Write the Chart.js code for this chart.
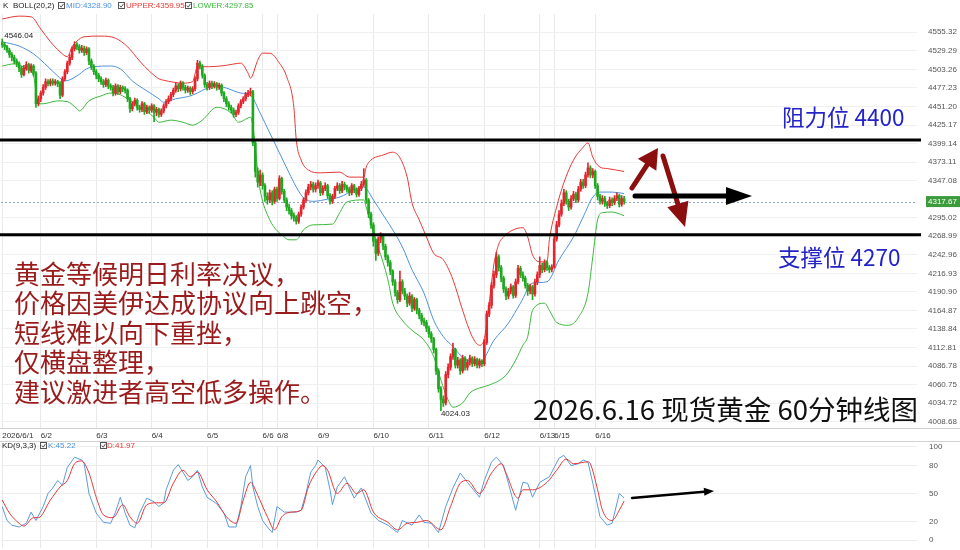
<!DOCTYPE html>
<html><head><meta charset="utf-8">
<script src="https://cdn.jsdelivr.net/npm/chart.js@4.4.1/dist/chart.umd.min.js"></script>
<style>
html,body{margin:0;padding:0;background:#fff;}
#wrap{position:relative;width:960px;height:550px;overflow:hidden;background:#fff;}
#main{position:absolute;left:0;top:0;}
#kd{position:absolute;left:0;top:442px;}
</style></head><body>
<div id="wrap">
<canvas id="main" width="960" height="442"></canvas>
<canvas id="kd" width="960" height="108"></canvas>
</div>
<script>
// ---------- DATA ----------
const days = ['2026/6/1','6/2','6/3','6/4','6/5','6/6','6/8','6/9','6/10','6/11','6/12','6/13','6/15','6/16'];
const dayStart = [0,16,39,62,85,108,114,131,154,177,200,223,229,246];
const slotCount = 380;
const firstOpen = 4541;
const closes = [
4538,4535,4530,4524,4520,4515,4512,4505,4496,4505,
4510,4502,4508,4498,4455,4462,4470,4478,4486,4483,
4487,4484,4486,4483,4467,4490,4500,4512,4520,4532,
4538,4535,4530,4533,4527,4532,4515,4507,4500,4495,
4490,4486,4482,4488,4480,4478,4470,4480,4472,4478,
4476,4474,4462,4448,4455,4460,4450,4447,4455,4444,
4450,4446,4452,4443,4447,4440,4445,4452,4458,4462,
4468,4474,4480,4476,4484,4478,4474,4477,4472,4476,
4490,4512,4508,4495,4482,4478,4484,4480,4483,4478,
4481,4470,4462,4455,4450,4446,4440,4443,4452,4458,
4462,4468,4470,4472,4400,4360,4345,4355,4340,4325,
4320,4330,4318,4335,4322,4350,4332,4320,4310,4305,
4298,4295,4290,4300,4310,4320,4330,4338,4342,4335,
4340,4344,4330,4336,4340,4326,4318,4325,4336,4340,
4333,4342,4338,4335,4330,4340,4334,4328,4336,4342,
4348,4320,4300,4285,4262,4245,4265,4270,4255,4240,
4232,4220,4205,4190,4180,4205,4192,4185,4175,4185,
4168,4180,4165,4158,4150,4148,4140,4132,4125,4110,
4080,4055,4040,4035,4075,4085,4100,4110,4088,4095,
4080,4098,4085,4092,4098,4090,4096,4088,4094,4090,
4120,4160,4172,4200,4215,4240,4225,4210,4195,4185,
4192,4198,4186,4205,4224,4215,4210,4200,4192,4198,
4188,4205,4215,4228,4222,4232,4225,4222,4226,4265,
4285,4300,4315,4330,4318,4310,4322,4328,4320,4335,
4345,4340,4355,4365,4355,4360,4340,4325,4318,4322,
4315,4312,4320,4316,4322,4326,4314,4322,4317.67];
const highs = [
4546.04,4541,4537,4533,4527,4523,4518,4514,4508,4509,
4514,4512,4511,4510,4500,4466,4473,4482,4490,4489,
4490,4490,4489,4488,4486,4493,4503,4515,4524,4535,
4542,4541,4538,4537,4536,4535,4534,4518,4510,4503,
4498,4493,4489,4491,4490,4483,4481,4483,4482,4481,
4480,4479,4476,4464,4458,4463,4462,4453,4458,4457,
4453,4452,4455,4454,4450,4449,4448,4455,4461,4466,
4471,4477,4484,4483,4487,4486,4481,4480,4479,4479,
4493,4516,4515,4510,4497,4485,4487,4487,4486,4485,
4484,4483,4472,4465,4458,4453,4449,4446,4455,4461,
4465,4471,4474,4477,4474,4404,4365,4362,4358,4343,
4330,4334,4333,4338,4338,4354,4352,4335,4323,4314,
4308,4302,4298,4303,4313,4323,4334,4342,4346,4345,
4344,4348,4346,4340,4344,4342,4329,4328,4339,4344,
4343,4346,4345,4341,4338,4343,4342,4337,4339,4346,
4364,4350,4322,4303,4288,4265,4268,4274,4272,4258,
4243,4235,4222,4208,4193,4220,4208,4196,4188,4190,
4187,4183,4182,4168,4161,4154,4151,4143,4135,4127,
4112,4083,4058,4045,4079,4090,4104,4119,4112,4099,
4097,4102,4100,4096,4102,4100,4100,4098,4097,4096,
4124,4164,4176,4204,4220,4246,4243,4228,4213,4198,
4196,4202,4200,4209,4228,4227,4219,4213,4203,4202,
4200,4209,4219,4240,4231,4236,4235,4228,4229,4270,
4290,4305,4320,4335,4333,4321,4326,4332,4331,4339,
4349,4349,4359,4372,4368,4364,4362,4343,4328,4326,
4325,4318,4324,4323,4326,4330,4328,4326,4325];
const lows = [
4534,4531,4527,4520,4515,4511,4507,4500,4492,4494,
4502,4498,4499,4494,4450,4452,4458,4467,4475,4480,
4480,4481,4481,4479,4462,4465,4487,4497,4509,4517,
4529,4531,4526,4527,4523,4524,4510,4503,4496,4490,
4486,4482,4478,4479,4476,4474,4466,4467,4468,4469,
4472,4470,4458,4443,4445,4452,4446,4443,4444,4440,
4441,4442,4443,4430,4438,4436,4437,4442,4449,4455,
4459,4465,4471,4472,4473,4474,4470,4471,4468,4469,
4473,4487,4504,4491,4478,4474,4475,4476,4477,4474,
4475,4466,4458,4451,4446,4442,4436,4437,4440,4449,
4455,4459,4465,4466,4396,4352,4338,4340,4335,4318,
4314,4316,4313,4315,4318,4320,4328,4316,4305,4300,
4293,4290,4286,4287,4297,4307,4317,4327,4334,4331,
4331,4336,4326,4327,4333,4322,4314,4315,4322,4333,
4329,4330,4334,4331,4326,4327,4330,4324,4325,4333,
4339,4315,4295,4280,4255,4235,4242,4260,4250,4236,
4227,4215,4200,4185,4175,4177,4188,4180,4170,4172,
4163,4165,4160,4153,4145,4143,4135,4127,4120,4105,
4075,4050,4024.03,4030,4032,4070,4081,4096,4084,4084,
4075,4077,4081,4081,4088,4086,4087,4084,4084,4086,
4087,4117,4156,4168,4196,4211,4220,4205,4190,4180,
4181,4188,4182,4183,4202,4211,4206,4196,4186,4188,
4180,4185,4201,4211,4218,4219,4221,4218,4219,4224,
4262,4282,4297,4312,4314,4305,4307,4319,4316,4317,
4332,4336,4337,4352,4351,4351,4336,4320,4314,4314,
4311,4308,4309,4312,4313,4319,4310,4311,4314];
const upperBand = [[0,4574],[7,4578],[12,4577],[16,4560],[20,4542],[24,4528],[27,4521],[29,4535],[31,4543],[34,4549],[41,4550],[47,4547],[52,4535],[57,4515],[61,4501],[65,4490],[67,4488],[75,4484],[79,4486],[81,4507],[86,4507],[93,4509],[99,4512],[102,4498],[103,4491],[106,4516],[108,4526],[111,4526],[115,4512],[118,4493],[121,4450],[122,4404],[124,4376],[127,4362],[132,4358],[140,4359],[144,4352],[150,4352],[151,4366],[153,4376],[158,4383],[162,4387],[165,4379],[168,4352],[170,4316],[173,4292],[176,4268],[179,4245],[183,4236],[187,4208],[191,4165],[195,4128],[198,4116],[200,4125],[202,4175],[204,4230],[206,4258],[208,4268],[212,4278],[216,4281],[218,4268],[220,4243],[223,4233],[226,4233],[227,4264],[230,4310],[233,4344],[237,4376],[241,4394],[243,4400],[245,4380],[248,4366],[251,4364],[258,4359.95]];
const midBand = [[0,4542],[7,4536],[13,4525],[19,4507],[23,4494],[26,4487],[31,4494],[35,4504],[38,4507],[45,4508],[49,4504],[54,4487],[60,4473],[65,4462],[67,4457],[72,4462],[77,4465],[81,4470],[85,4477],[89,4480],[93,4477],[99,4470],[103,4467],[107,4442],[111,4414],[115,4386],[119,4358],[122,4338],[125,4323],[129,4318],[135,4321],[140,4324],[146,4334],[150,4338],[154,4320],[158,4299],[162,4278],[166,4254],[170,4222],[175,4189],[179,4151],[183,4128],[187,4114],[191,4099],[195,4092],[198,4091],[204,4123],[210,4147],[215,4175],[220,4203],[226,4205],[231,4236],[237,4268],[241,4296],[245,4324],[248,4331],[253,4331],[258,4328.90]];
const lowerBand = [[0,4508],[5,4511],[10,4504],[13,4494],[15,4455],[17,4455],[23,4459],[27,4458],[31,4448],[32,4445],[36,4459],[41,4466],[45,4470],[48,4469],[52,4462],[57,4451],[63,4436],[65,4429],[70,4432],[75,4429],[79,4425],[83,4432],[89,4450],[95,4442],[98,4429],[102,4435],[103,4436],[107,4334],[111,4292],[117,4268],[119,4264],[122,4264],[125,4278],[129,4285],[137,4286],[140,4302],[143,4317],[150,4320],[151,4310],[156,4254],[160,4208],[162,4175],[166,4151],[170,4137],[175,4123],[179,4100],[182,4067],[185,4039],[187,4029],[191,4035],[194,4049],[198,4056],[202,4060],[209,4074],[213,4095],[216,4116],[218,4128],[220,4165],[225,4175],[227,4165],[230,4148],[235,4144],[239,4155],[243,4189],[245,4240],[247,4292],[249,4302],[253,4303],[258,4297.85]];
const kLine = [[0,36],[2,21],[4,16],[7,14],[10,18],[12,30],[14,21],[17,36],[19,50],[21,56],[23,64],[25,59],[27,78],[30,89],[33,86],[34,82],[36,50],[39,29],[42,19],[45,18],[47,30],[49,46],[51,29],[53,16],[55,13],[57,29],[60,45],[63,41],[65,36],[67,40],[68,54],[71,75],[73,81],[75,73],[77,64],[79,68],[81,75],[83,57],[85,46],[89,39],[92,29],[94,14],[97,14],[99,36],[101,68],[103,80],[104,57],[106,36],[108,21],[110,14],[112,8],[114,36],[117,30],[119,30],[122,30],[124,32],[126,50],[128,73],[130,80],[131,86],[134,78],[136,54],[137,38],[139,57],[142,68],[146,45],[149,56],[153,29],[156,21],[160,16],[164,8],[166,21],[170,16],[173,27],[175,19],[178,18],[181,8],[184,36],[187,56],[190,72],[193,62],[198,46],[200,64],[203,84],[205,89],[208,80],[210,61],[213,32],[216,62],[218,61],[220,46],[223,62],[227,68],[231,88],[233,91],[236,80],[239,82],[241,86],[243,84],[245,61],[248,25],[251,16],[253,18],[256,50],[258,45.22]];
const dLine = [[0,43],[3,29],[7,18],[9,15],[13,24],[15,24],[20,43],[24,57],[27,64],[30,82],[33,85],[36,72],[39,46],[42,27],[46,24],[50,38],[53,25],[56,18],[60,38],[64,40],[67,40],[71,61],[75,75],[78,68],[81,73],[85,54],[89,41],[93,25],[97,18],[100,43],[103,62],[106,48],[110,25],[113,11],[116,25],[120,30],[124,32],[127,57],[130,72],[133,80],[135,75],[139,50],[143,61],[147,50],[150,54],[154,30],[160,19],[164,11],[168,18],[172,19],[176,21],[182,11],[186,36],[190,61],[193,64],[198,50],[203,72],[207,82],[209,72],[214,45],[216,54],[220,54],[226,62],[230,75],[234,87],[237,82],[243,84],[244,82],[247,54],[249,32],[253,21],[256,32],[258,41.97]];
const yTicks = [4555.32,4529.29,4503.26,4477.23,4451.20,4425.17,4399.14,4373.11,4347.08,4295.02,4268.99,4242.96,4216.93,4190.90,4164.87,4138.84,4112.81,4086.78,4060.75,4034.72,4008.68];
const kdTicks = [100,80,50,20,0];
const lastPrice = 4317.67;
const midLast = 4328.90, upperLast = 4359.95, lowerLast = 4297.85;
const kLast = 45.22, dLast = 41.97;
const maxMark = 4546.04, minMark = 4024.03;
const levels = [4404, 4271];
const levelText = ['阻力位 4400','支撑位 4270'];
const noteLines = ['黄金等候明日利率决议，','价格因美伊达成协议向上跳空，','短线难以向下重挫，','仅横盘整理，','建议激进者高空低多操作。'];
const titleText = '2026.6.16 现货黄金 60分钟线图';

// ---------- BUILD ----------
const UP = '#e3262d', DOWN = '#1fa81f';
const MIDC = '#4d92dc', UPC = '#e53935', LOWC = '#3cb83c';
const CJK = '"Noto Sans CJK SC", sans-serif';
Chart.defaults.font.family = '"Liberation Sans", Arial, sans-serif';

const labels = Array.from({length: slotCount}, (_, i) => i);
const opens = closes.map((c, i) => i === 0 ? firstOpen : closes[i - 1]);
const bodies = closes.map((c, i) => [opens[i], c]);
const wicks = closes.map((c, i) => [lows[i], highs[i]]);
const colors = closes.map((c, i) => c >= opens[i] ? UP : DOWN);
const toXY = arr => arr.map(p => ({x: p[0], y: p[1]}));
const gridX = ctx => dayStart.includes(ctx.index) ? '#e9e9e9' : 'rgba(0,0,0,0)';
const noPad = s => { s.paddingTop = 0; s.paddingBottom = 0; s.paddingLeft = 0; s.paddingRight = 0; };

function drawCheck(ctx, x, y) {
  ctx.save();
  ctx.strokeStyle = '#555'; ctx.lineWidth = 1;
  ctx.strokeRect(x + 0.5, y - 3.5, 6, 6);
  ctx.beginPath(); ctx.moveTo(x + 1.8, y - 0.5); ctx.lineTo(x + 3.2, y + 1.2); ctx.lineTo(x + 5.5, y - 2.2); ctx.stroke();
  ctx.restore();
}
function arrow(ctx, x1, y1, x2, y2, w, hl, hw, color) {
  const a = Math.atan2(y2 - y1, x2 - x1);
  const bx = x2 - hl * Math.cos(a), by = y2 - hl * Math.sin(a);
  ctx.save();
  ctx.strokeStyle = color; ctx.fillStyle = color; ctx.lineWidth = w; ctx.lineCap = 'round';
  ctx.beginPath(); ctx.moveTo(x1, y1); ctx.lineTo(bx, by); ctx.stroke();
  ctx.beginPath();
  ctx.moveTo(x2, y2);
  ctx.lineTo(bx + hw * Math.sin(a), by - hw * Math.cos(a));
  ctx.lineTo(bx - hw * Math.sin(a), by + hw * Math.cos(a));
  ctx.closePath(); ctx.fill();
  ctx.restore();
}

const overlay = {
  id: 'overlay',
  beforeDatasetsDraw(chart) {
    const {ctx, chartArea, scales: {y}} = chart;
    const py = Math.round(y.getPixelForValue(lastPrice)) + 0.5;
    ctx.save();
    ctx.strokeStyle = '#8ea6c8'; ctx.lineWidth = 1; ctx.setLineDash([2, 2]);
    ctx.beginPath(); ctx.moveTo(chartArea.left, py); ctx.lineTo(chartArea.right, py); ctx.stroke();
    ctx.restore();
  },
  afterDraw(chart) {
    const {ctx, chartArea, scales: {x, y}} = chart;
    ctx.save();
    // separators
    ctx.strokeStyle = '#d2d2d2'; ctx.lineWidth = 1;
    [Math.round(chartArea.bottom) + 0.5, 441.5].forEach(yy => {
      ctx.beginPath(); ctx.moveTo(0, yy); ctx.lineTo(960, yy); ctx.stroke();
    });
    // legend row
    ctx.font = '8px "Liberation Sans"'; ctx.textBaseline = 'middle'; ctx.textAlign = 'left';
    ctx.fillStyle = '#222'; ctx.fillText('K', 3, 6); ctx.fillText('BOLL(20,2)', 13, 6);
    drawCheck(ctx, 58, 6); ctx.fillStyle = MIDC; ctx.fillText('MID:' + midLast.toFixed(2), 66, 6);
    drawCheck(ctx, 118, 6); ctx.fillStyle = UPC; ctx.fillText('UPPER:' + upperLast.toFixed(2), 126, 6);
    drawCheck(ctx, 185, 6); ctx.fillStyle = LOWC; ctx.fillText('LOWER:' + lowerLast.toFixed(2), 193, 6);
    // price label box
    const py = y.getPixelForValue(lastPrice);
    ctx.fillStyle = '#3c9c3c'; ctx.fillRect(926, py - 5.5, 34, 11);
    ctx.fillStyle = '#fff'; ctx.fillText(lastPrice.toFixed(2), 928, py + 0.5);
    // max / min marks
    ctx.fillStyle = '#222';
    const iMax = highs.indexOf(maxMark), iMin = lows.indexOf(minMark);
    ctx.fillText(maxMark.toFixed(2), x.getPixelForValue(iMax) + 2, y.getPixelForValue(maxMark) - 3);
    ctx.fillText(minMark.toFixed(2), x.getPixelForValue(iMin), y.getPixelForValue(minMark) + 3);
    // level lines
    ctx.strokeStyle = '#000'; ctx.lineWidth = 3;
    levels.forEach(v => {
      const ly = y.getPixelForValue(v);
      ctx.beginPath(); ctx.moveTo(0, ly); ctx.lineTo(921, ly); ctx.stroke();
    });
    // level texts
    ctx.fillStyle = '#2323c8'; ctx.font = '22.5px ' + CJK;
    ctx.fillText(levelText[0], 782, 117);
    ctx.fillText(levelText[1], 778, 257);
    // note lines
    ctx.fillStyle = '#9a1b1b'; ctx.font = '26px ' + CJK;
    noteLines.forEach((t, k) => ctx.fillText(t, 14, 274 + k * 29.5));
    // title
    ctx.font = '26px ' + CJK;
    const w = ctx.measureText(titleText).width;
    const fs = 26 * 385 / w;
    ctx.font = fs.toFixed(1) + 'px ' + CJK;
    ctx.fillStyle = '#111';
    ctx.fillText(titleText, 533, 410);
    // arrows
    arrow(ctx, 632, 188, 658, 148, 5, 20, 11, '#8b0f0f');
    arrow(ctx, 663, 156, 685, 227, 5, 24, 11, '#8b0f0f');
    arrow(ctx, 635, 196, 752, 196, 5, 26, 9, '#000');
    ctx.restore();
  }
};

new Chart(document.getElementById('main'), {
  type: 'bar',
  data: {
    labels,
    datasets: [
      {type: 'line', data: toXY(upperBand), borderColor: UPC, borderWidth: 1, pointRadius: 0, cubicInterpolationMode: 'monotone', order: 5},
      {type: 'line', data: toXY(midBand), borderColor: MIDC, borderWidth: 1, pointRadius: 0, cubicInterpolationMode: 'monotone', order: 5},
      {type: 'line', data: toXY(lowerBand), borderColor: LOWC, borderWidth: 1, pointRadius: 0, cubicInterpolationMode: 'monotone', order: 5},
      {type: 'bar', data: wicks, backgroundColor: colors, barThickness: 1, grouped: false, order: 2},
      {type: 'bar', data: bodies, backgroundColor: colors, barThickness: 2, grouped: false, order: 1}
    ]
  },
  options: {
    responsive: false, animation: false,
    layout: {padding: {top: 14, left: 1, right: 0, bottom: 0}},
    plugins: {legend: {display: false}, tooltip: {enabled: false}},
    scales: {
      x: {
        type: 'category', offset: true,
        grid: {offset: false, drawTicks: false, color: gridX},
        border: {display: false},
        ticks: {autoSkip: false, maxRotation: 0, minRotation: 0, align: 'start', padding: 3,
          font: {size: 8}, color: '#333',
          callback: (v, i) => { const k = dayStart.indexOf(i); return k >= 0 ? days[k] : ''; }},
        afterFit: s => { s.height = 14; noPad(s); }
      },
      y: {
        position: 'right', min: 3999.8, max: 4581.0,
        afterBuildTicks: s => { s.ticks = yTicks.map(v => ({value: v})); },
        ticks: {autoSkip: false, padding: 11, font: {size: 8}, color: '#555', callback: v => Number(v).toFixed(2)},
        grid: {color: '#f0f0f0', drawTicks: false},
        border: {display: false},
        afterFit: s => { s.width = 43; noPad(s); }
      }
    }
  },
  plugins: [overlay]
});

const kdOverlay = {
  id: 'kdOverlay',
  afterDraw(chart) {
    const {ctx} = chart;
    ctx.save();
    ctx.font = '8px "Liberation Sans"'; ctx.textBaseline = 'middle'; ctx.textAlign = 'left';
    ctx.fillStyle = '#222'; ctx.fillText('KD(9,3,3)', 2, 4);
    drawCheck(ctx, 40, 4); ctx.fillStyle = MIDC; ctx.fillText('K:' + kLast.toFixed(2), 48, 4);
    drawCheck(ctx, 100, 4); ctx.fillStyle = UPC; ctx.fillText('D:' + dLast.toFixed(2), 107, 4);
    arrow(ctx, 632, 56, 714, 49, 2.5, 10, 4, '#000');
    ctx.restore();
  }
};

new Chart(document.getElementById('kd'), {
  type: 'line',
  data: {
    labels,
    datasets: [
      {data: toXY(kLine), borderColor: '#5a9be0', borderWidth: 1, pointRadius: 0, order: 2},
      {data: toXY(dLine), borderColor: UPC, borderWidth: 1, pointRadius: 0, cubicInterpolationMode: 'monotone', order: 1}
    ]
  },
  options: {
    responsive: false, animation: false,
    layout: {padding: {top: 4, left: 1, right: 0, bottom: 0}, autoPadding: false},
    plugins: {legend: {display: false}, tooltip: {enabled: false}},
    scales: {
      x: {
        type: 'category', offset: true,
        grid: {offset: false, drawTicks: false, color: gridX},
        border: {display: false},
        ticks: {display: false},
        afterFit: s => { s.height = 2; noPad(s); }
      },
      y: {
        position: 'right', min: -8.57, max: 101.07,
        afterBuildTicks: s => { s.ticks = kdTicks.map(v => ({value: v})); },
        ticks: {autoSkip: false, padding: 12, font: {size: 8}, color: '#555'},
        grid: {color: '#ececec', drawTicks: false},
        border: {display: false},
        afterFit: s => { s.width = 43; noPad(s); }
      }
    }
  },
  plugins: [kdOverlay]
});
</script>
</body></html>
